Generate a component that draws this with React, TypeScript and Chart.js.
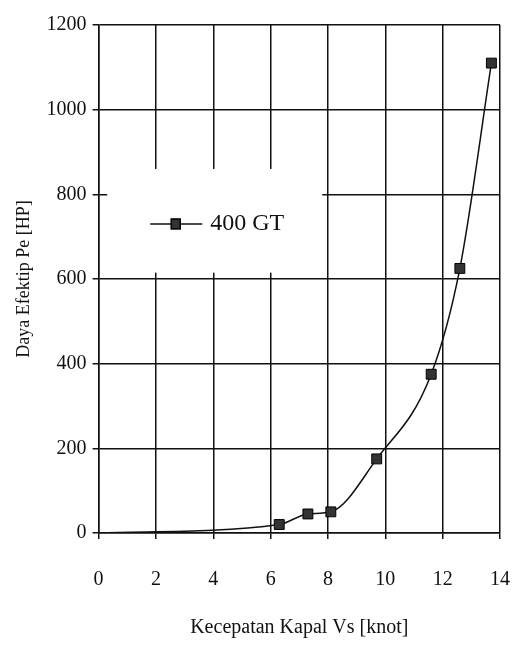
import React, { useEffect, useRef } from "react";
import { Chart, registerables } from "chart.js";

Chart.register(...registerables);

const speeds = [0, 6.3, 7.3, 8.1, 9.7, 11.6, 12.6, 13.7];
const power = [0, 20, 45, 50, 175, 375, 625, 1110];
const markerRadius = [0, 7, 7, 7, 7, 7, 7, 7];
const seriesLabel = "400 GT";
const xTitle = "Kecepatan Kapal Vs [knot]";
const yTitle = "Daya Efektip Pe [HP]";

const FONT = "'Liberation Serif', 'DejaVu Serif', serif";

const legendPlugin = {
  id: "insideLegend",
  beforeDatasetsDraw(chart: any) {
    const { ctx, scales } = chart;
    const x = scales.x;
    const y = scales.y;
    ctx.save();
    ctx.fillStyle = "#ffffff";
    const l = x.getPixelForValue(0.3);
    const r = x.getPixelForValue(7.8);
    const t = y.getPixelForValue(860);
    const b = y.getPixelForValue(615);
    ctx.fillRect(l, t, r - l, b - t);
    ctx.restore();
  },
  afterDatasetsDraw(chart: any) {
    const { ctx, scales } = chart;
    const x = scales.x;
    const y = scales.y;
    const cy = y.getPixelForValue(730);
    const lx = x.getPixelForValue(1.8);
    ctx.save();
    ctx.strokeStyle = "#111";
    ctx.lineWidth = 1.5;
    ctx.beginPath();
    ctx.moveTo(lx, cy);
    ctx.lineTo(lx + 52, cy);
    ctx.stroke();
    ctx.fillStyle = "#333";
    ctx.strokeStyle = "#000";
    ctx.fillRect(lx + 21, cy - 5, 9, 10);
    ctx.strokeRect(lx + 21, cy - 5, 9, 10);
    ctx.fillStyle = "#111";
    ctx.font = `24px ${FONT}`;
    ctx.textBaseline = "middle";
    ctx.fillText(seriesLabel, lx + 60, cy);
    ctx.restore();
  },
};

export default function App() {
  const ref = useRef<HTMLCanvasElement | null>(null);
  useEffect(() => {
    document.body.style.margin = "0";
    const chart = new Chart(ref.current as HTMLCanvasElement, {
      type: "line",
      data: {
        datasets: [
          {
            label: seriesLabel,
            data: speeds.map((s, i) => ({ x: s, y: power[i] })),
            borderColor: "#111",
            borderWidth: 1.5,
            backgroundColor: "#333",
            pointStyle: "rect",
            pointRadius: markerRadius,
            pointBorderColor: "#000",
            pointBorderWidth: 1,
            cubicInterpolationMode: "monotone",
          },
        ],
      },
      options: {
        animation: false,
        responsive: false,
        layout: { padding: { left: 13, right: 0, top: 25, bottom: 6 } },
        plugins: {
          legend: { display: false },
          tooltip: { enabled: false },
        },
        scales: {
          x: {
            type: "linear",
            min: 0,
            max: 14,
            afterFit: (s: any) => {
              s.height = 109;
              s.paddingRight = 13;
            },
            ticks: {
              stepSize: 2,
              color: "#111",
              font: { family: FONT, size: 20 },
              padding: 29,
            },
            grid: {
              color: "#111",
              lineWidth: 1.5,
              tickLength: 6,
            },
            border: { color: "#111", width: 1.5 },
            title: {
              display: true,
              text: xTitle,
              color: "#111",
              font: { family: FONT, size: 20 },
              padding: { top: 0, bottom: 2 },
            },
          },
          y: {
            min: 0,
            max: 1200,
            ticks: {
              stepSize: 200,
              color: "#111",
              font: { family: FONT, size: 20 },
              padding: 6,
              callback: (v: any) => String(v),
            },
            grid: {
              color: "#111",
              lineWidth: 1.5,
              tickLength: 6,
            },
            border: { color: "#111", width: 1.5 },
            title: {
              display: true,
              text: yTitle,
              color: "#111",
              font: { family: FONT, size: 18 },
              padding: { top: 0, bottom: 6 },
            },
          },
        },
      },
      plugins: [legendPlugin],
    });
    return () => chart.destroy();
  }, []);
  return <canvas ref={ref} width={513} height={648} style={{ display: "block" }} />;
}
